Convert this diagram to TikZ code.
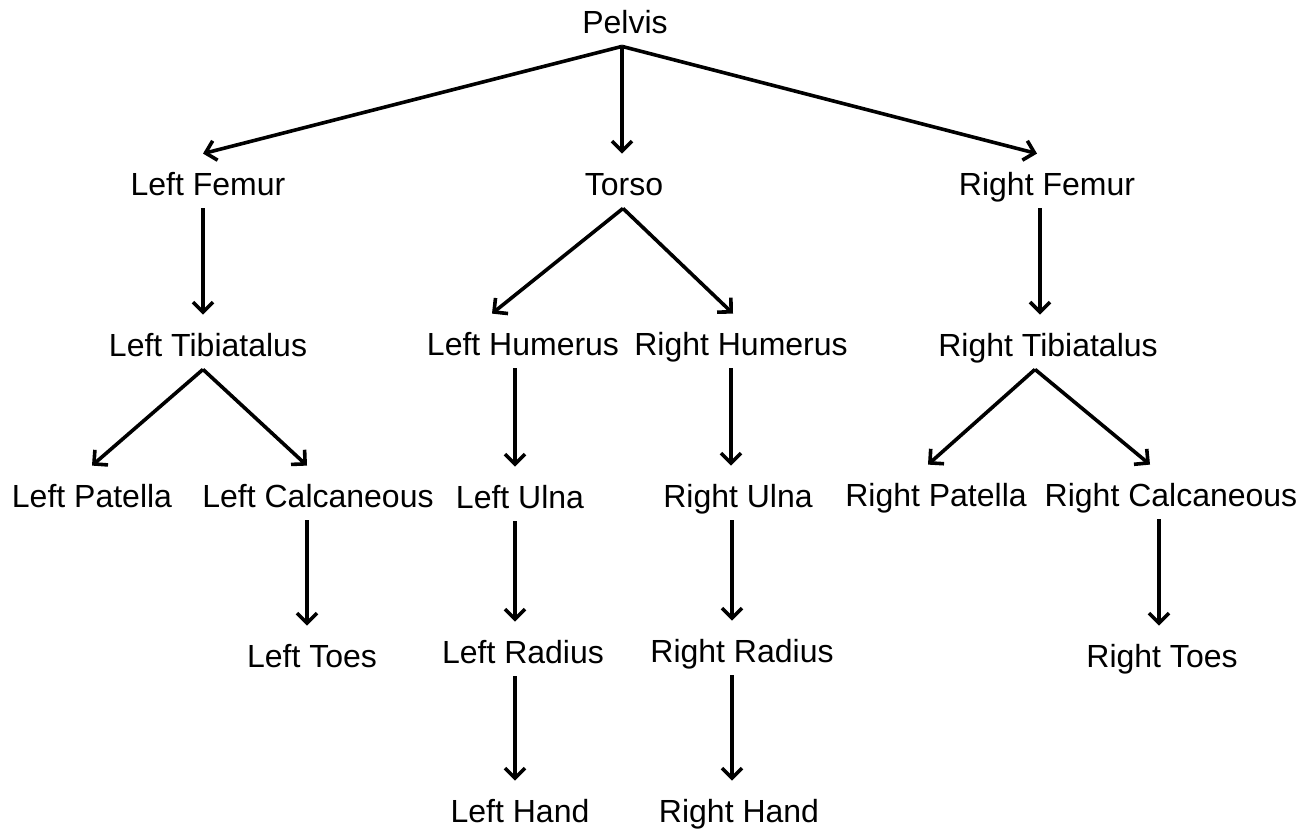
\documentclass[tikz,border=0pt]{standalone}
\usepackage{fontspec}
\setmainfont{Liberation Sans}
\usetikzlibrary{arrows.meta}
\begin{document}
\begin{tikzpicture}[x=0.5pt,y=-0.5pt,
  bone/.style={anchor=base,inner sep=0pt,text height=20.5pt,text depth=6.5pt,font=\fontsize{16}{19}\selectfont},
  link/.style={line width=1.8pt,-{Straight Barb[length=5pt,width=10pt,line width=1.8pt]}}]
\useasboundingbox (0,0) rectangle (1311,830);
% nodes (x = centre, y = baseline)
\node[bone] (pelvis) at (625,33) {Pelvis};
\node[bone] (lfem) at (208,195) {Left Femur};
\node[bone] (torso) at (624,195) {Torso};
\node[bone] (rfem) at (1047,195) {Right Femur};
\node[bone] (ltib) at (208,356) {Left Tibiatalus};
\node[bone] (lhum) at (523,355) {Left Humerus};
\node[bone] (rhum) at (741,355) {Right Humerus};
\node[bone] (rtib) at (1048,356) {Right Tibiatalus};
\node[bone] (lpat) at (92,507) {Left Patella};
\node[bone] (lcal) at (318,507) {Left Calcaneous};
\node[bone] (luln) at (520,508) {Left Ulna};
\node[bone] (ruln) at (738,507) {Right Ulna};
\node[bone] (rpat) at (936,506) {Right Patella};
\node[bone] (rcal) at (1171,506) {Right Calcaneous};
\node[bone] (ltoe) at (312,667) {Left Toes};
\node[bone] (lrad) at (523,663) {Left Radius};
\node[bone] (rrad) at (742,662) {Right Radius};
\node[bone] (rtoe) at (1162,667) {Right Toes};
\node[bone] (lhan) at (520,822) {Left Hand};
\node[bone] (rhan) at (739,822) {Right Hand};
% connectors
\draw[link] ([xshift=-1.5pt]pelvis.south) -- ([xshift=-2.5pt]lfem.north);
\draw[link] ([xshift=-1.5pt]pelvis.south) -- ([xshift=-1pt]torso.north);
\draw[link] ([xshift=-1.5pt]pelvis.south) -- ([xshift=-5pt]rfem.north);
\draw[link] ([xshift=-2.5pt]lfem.south) -- ([xshift=-2.5pt]lfem.south |- ltib.north);
\draw[link] ([xshift=-0.5pt]torso.south) -- ([xshift=-15.5pt]lhum.north);
\draw[link] ([xshift=-0.5pt]torso.south) -- ([xshift=-4pt]rhum.north);
\draw[link] ([xshift=-3.5pt]rfem.south) -- ([xshift=-3.5pt]rfem.south |- rtib.north);
\draw[link] ([xshift=-2.5pt]ltib.south) -- (lpat.north);
\draw[link] ([xshift=-2.5pt]ltib.south) -- ([xshift=-5.5pt]lcal.north);
\draw[link] ([xshift=-6.5pt]rtib.south) -- ([xshift=-4pt]rpat.north);
\draw[link] ([xshift=-6.5pt]rtib.south) -- ([xshift=-10.5pt]rcal.north);
\draw[link] ([xshift=-4pt]lhum.south) -- ([xshift=-4pt]lhum.south |- luln.north);
\draw[link] ([xshift=-5pt]rhum.south) -- ([xshift=-5pt]rhum.south |- ruln.north);
\draw[link] ([xshift=-5.5pt]lcal.south) -- ([xshift=-5.5pt]lcal.south |- ltoe.north);
\draw[link] ([xshift=-6pt]rcal.south) -- ([xshift=-6pt]rcal.south |- rtoe.north);
\draw[link] ([xshift=-2.5pt]luln.south) -- ([xshift=-2.5pt]luln.south |- lrad.north);
\draw[link] ([xshift=-3pt]ruln.south) -- ([xshift=-3pt]ruln.south |- rrad.north);
\draw[link] ([xshift=-4pt]lrad.south) -- ([xshift=-4pt]lrad.south |- lhan.north);
\draw[link] ([xshift=-5pt]rrad.south) -- ([xshift=-5pt]rrad.south |- rhan.north);
\end{tikzpicture}
\end{document}
